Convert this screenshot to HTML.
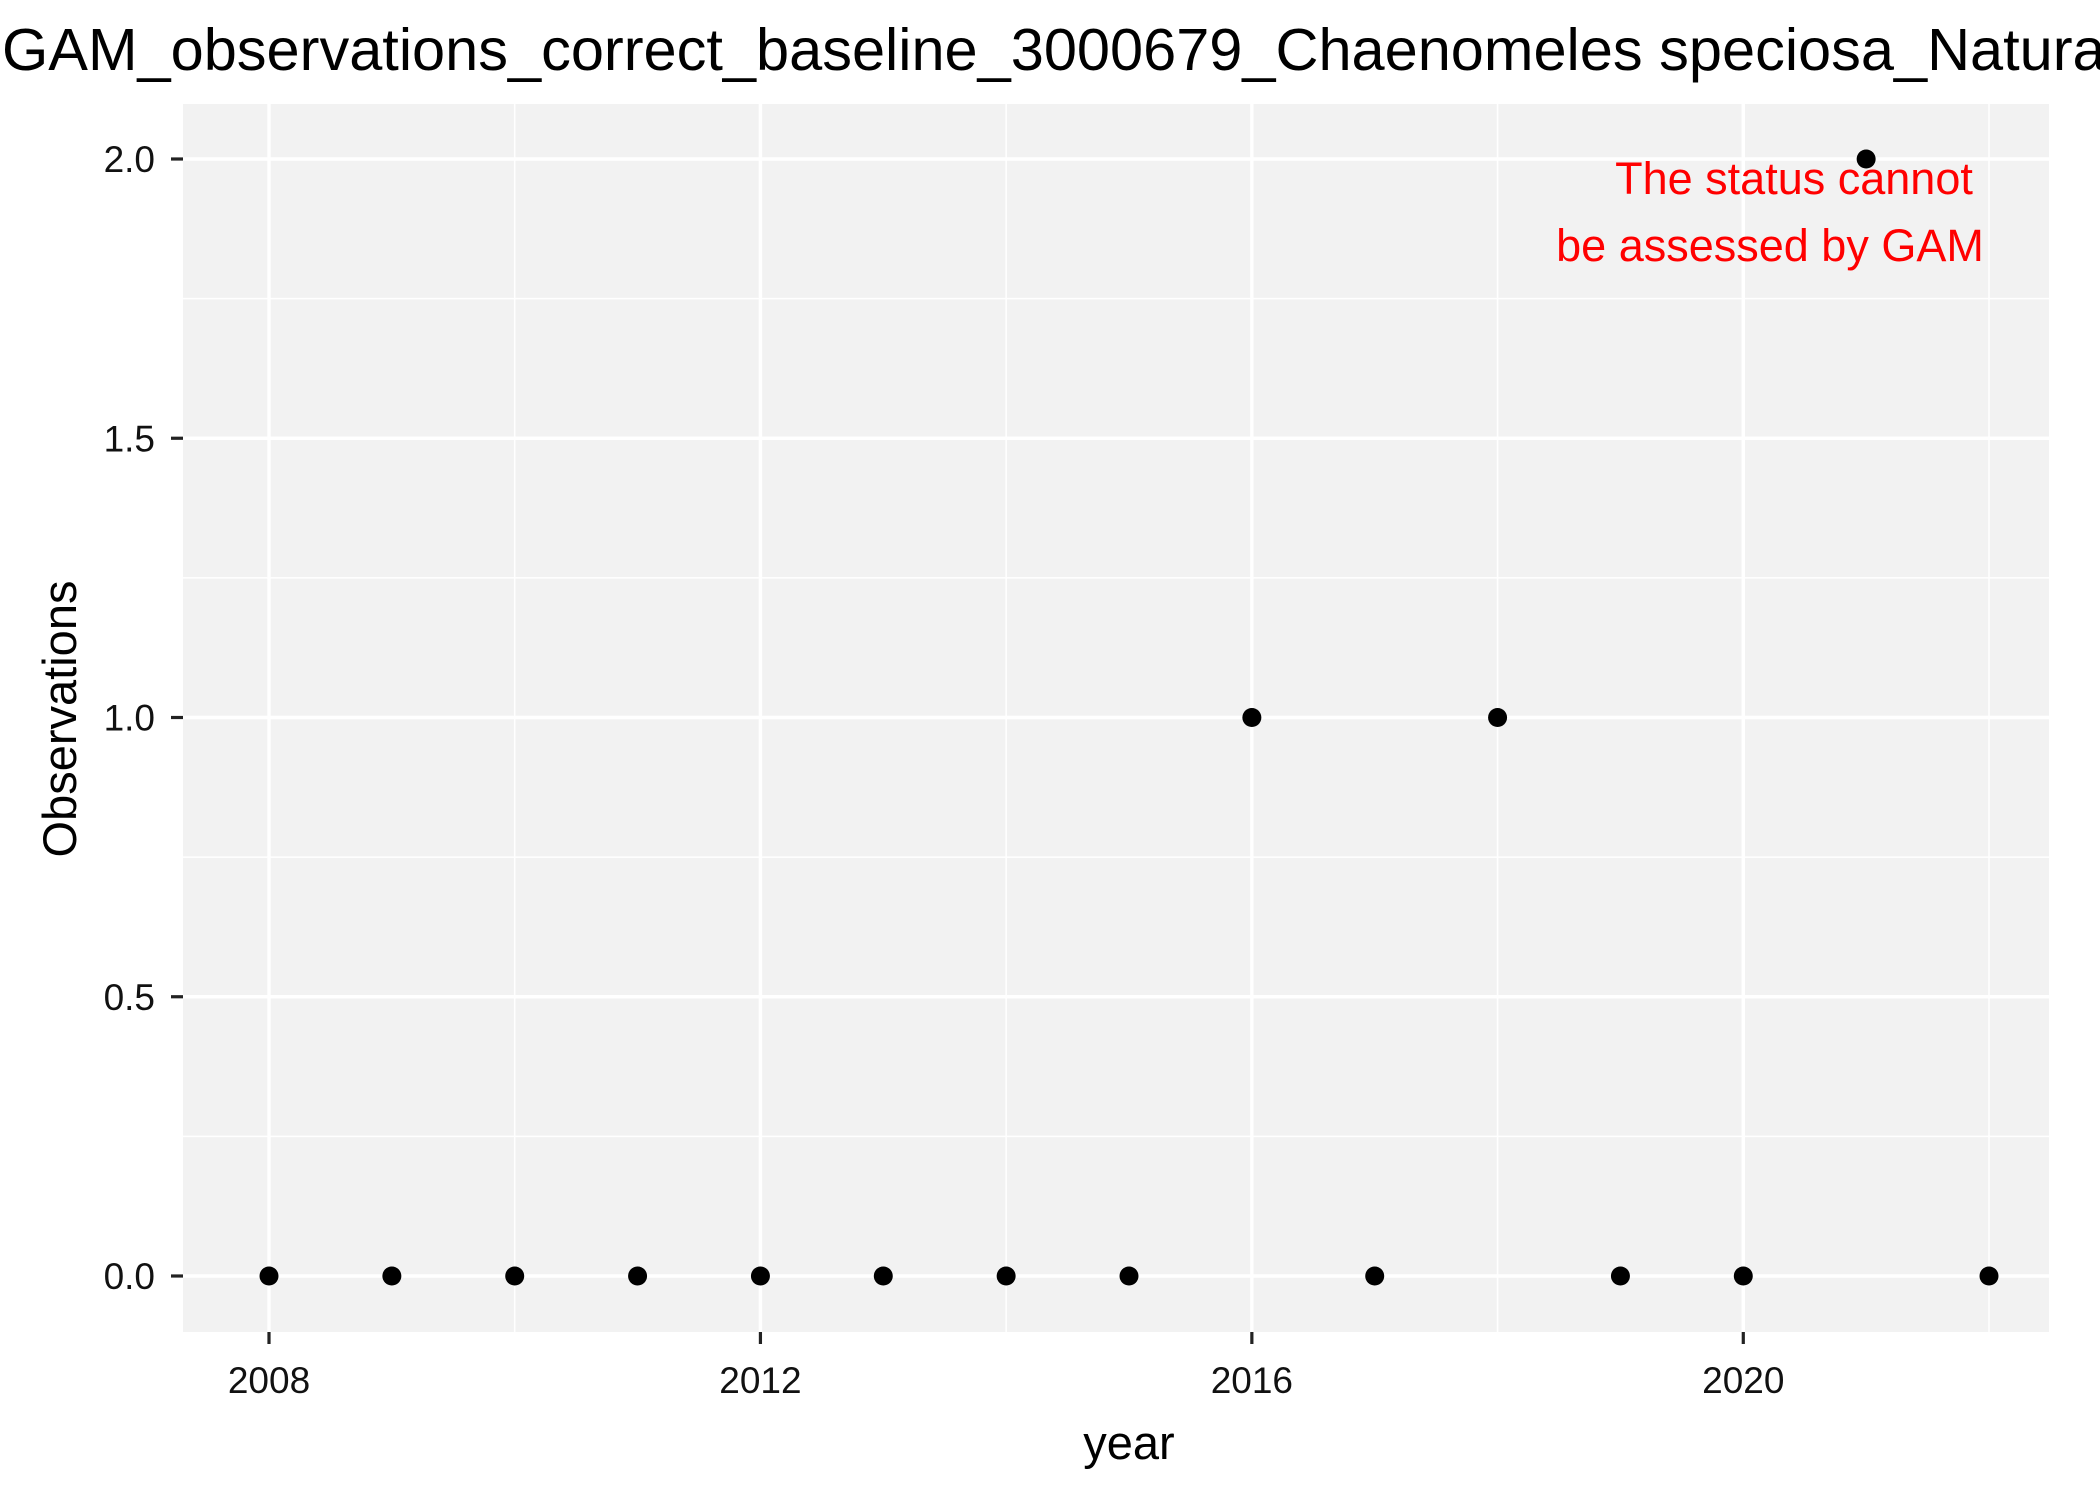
<!DOCTYPE html>
<html><head><meta charset="utf-8"><style>body{margin:0;background:#fff}svg{display:block;font-family:"Liberation Sans",Arial,sans-serif}</style></head>
<body>
<svg id="chart" width="2100" height="1499" viewBox="0 0 2100 1499">
<text x="2" y="70" font-size="59.5" fill="#000">GAM_observations_correct_baseline_3000679_Chaenomeles speciosa_Natura</text>
<rect x="183" y="104" width="1866" height="1228" fill="#f2f2f2"/>
<g id="grid"></g>
<g id="axes"></g>
<g id="points"></g>
<text x="1794" y="194" font-size="45" fill="#ff0000" text-anchor="middle">The status cannot</text>
<text x="1770" y="261" font-size="45" fill="#ff0000" text-anchor="middle">be assessed by GAM</text>
<text x="1129" y="1459" font-size="47" fill="#000" text-anchor="middle">year</text>
<text x="0" y="0" font-size="47" fill="#000" text-anchor="middle" transform="translate(76,719) rotate(-90)">Observations</text>
</svg>
<script>
const years = [2008,2009,2010,2011,2012,2013,2014,2015,2016,2017,2018,2019,2020,2021,2022];
const observations = [0,0,0,0,0,0,0,0,1,0,1,0,0,2,0];
const xTicks = [2008,2012,2016,2020];
const xMinor = [2010,2014,2018,2022];
const yTicks = [0,0.5,1,1.5,2];
const yTickLabels = ["0.0","0.5","1.0","1.5","2.0"];
const yMinor = [0.25,0.75,1.25,1.75];

const NS="http://www.w3.org/2000/svg";
const X0=183,X1=2049,Y0=104,Y1=1332;
function xs(v){return 269+(v-2008)*(1989-269)/14;}
function ys(v){return 1276-v*(1276-159)/2;}
function mk(tag,attrs,parent){const e=document.createElementNS(NS,tag);for(const k in attrs)e.setAttribute(k,attrs[k]);parent.appendChild(e);return e;}
const grid=document.getElementById('grid'),axes=document.getElementById('axes'),pts=document.getElementById('points');
yMinor.forEach(v=>{const l=mk('line',{x1:X0,x2:X1,y1:ys(v),y2:ys(v),stroke:'#fff','stroke-width':1.6},grid);

});
xMinor.forEach(v=>{const l=mk('line',{x1:xs(v),x2:xs(v),y1:Y0,y2:Y1,stroke:'#fff','stroke-width':1.6},grid);

});
yTicks.forEach((v,i)=>{const l=mk('line',{x1:X0,x2:X1,y1:ys(v),y2:ys(v),stroke:'#fff','stroke-width':3.4},grid);


const t=mk('line',{x1:171,x2:X0,y1:ys(v),y2:ys(v),stroke:'#222','stroke-width':3.2},axes);


const tx=mk('text',{x:155,y:ys(v)+13,'font-size':37,'text-anchor':'end',fill:'#111'},axes);tx.textContent=yTickLabels[i];

});
xTicks.forEach(v=>{const l=mk('line',{x1:xs(v),x2:xs(v),y1:Y0,y2:Y1,stroke:'#fff','stroke-width':3.4},grid);


const t=mk('line',{x1:xs(v),x2:xs(v),y1:Y1,y2:1344,stroke:'#222','stroke-width':3.2},axes);


const tx=mk('text',{x:xs(v),y:1393,'font-size':37,'text-anchor':'middle',fill:'#111'},axes);tx.textContent=String(v);

});
years.forEach((y,i)=>{const c=mk('circle',{cx:xs(y),cy:ys(observations[i]),r:9.5,fill:'#000'},pts);

});
</script>
</body></html>
